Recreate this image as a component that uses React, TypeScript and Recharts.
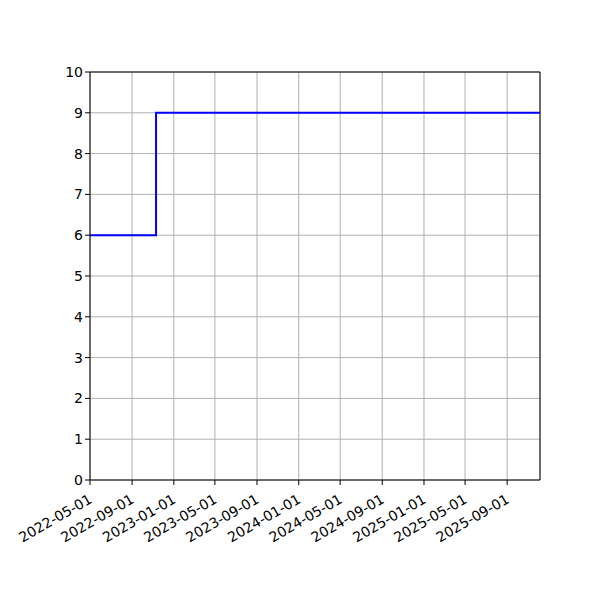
import React from 'react'
import {
  LineChart,
  Line,
  XAxis,
  YAxis,
  CartesianGrid,
  ReferenceLine,
} from 'recharts'

const dates = ['2022-05-01', '2022-11-10', '2025-12-06']
const values = [6, 9, 9]
const xTickLabels = [
  '2022-05-01',
  '2022-09-01',
  '2023-01-01',
  '2023-05-01',
  '2023-09-01',
  '2024-01-01',
  '2024-05-01',
  '2024-09-01',
  '2025-01-01',
  '2025-05-01',
  '2025-09-01',
]
const yTicks = [0, 1, 2, 3, 4, 5, 6, 7, 8, 9, 10]

const toTime = (s: string) => Date.parse(s + 'T00:00:00Z')
const fmtDate = (t: number) => new Date(t).toISOString().slice(0, 10)

const data = dates.map((d, i) => ({ t: toTime(d), value: values[i] }))
const xTicks = xTickLabels.map(toTime)
const domain = [toTime(dates[0]), toTime(dates[dates.length - 1])]

const font = 'DejaVu Sans, sans-serif'

function DateTick({ x, y, payload }: any) {
  return (
    <text
      x={0}
      y={0}
      transform={`translate(${x + 3},${y + 15}) rotate(-30)`}
      textAnchor="end"
      fontSize={14}
      fontFamily={font}
      fill="#000"
    >
      {fmtDate(payload.value)}
    </text>
  )
}

export default function App() {
  return (
    <div style={{ position: 'absolute', left: 0, top: 0, background: '#fff' }}>
      <LineChart
        width={600}
        height={600}
        data={data}
        margin={{ top: 72, right: 60, bottom: 0, left: 50 }}
      >
        <CartesianGrid stroke="#b0b0b0" strokeWidth={1} />
        <XAxis
          dataKey="t"
          type="number"
          scale="time"
          domain={domain}
          ticks={xTicks}
          tick={<DateTick />}
          tickSize={5}
          height={120}
          interval={0}
          stroke="#000"
          tickLine={{ stroke: '#000' }}
          axisLine={{ stroke: '#000' }}
          allowDataOverflow
        />
        <YAxis
          type="number"
          domain={[0, 10]}
          ticks={yTicks}
          width={40}
          tickSize={5}
          interval={0}
          tick={{ fontSize: 14, fontFamily: font, fill: '#000' }}
          tickLine={{ stroke: '#000' }}
          axisLine={{ stroke: '#000' }}
        />
        <ReferenceLine y={10} stroke="#000" />
        <ReferenceLine x={domain[1]} stroke="#000" />
        <Line
          type="stepAfter"
          dataKey="value"
          stroke="#0000ff"
          strokeWidth={2}
          dot={false}
          isAnimationActive={false}
        />
      </LineChart>
    </div>
  )
}
